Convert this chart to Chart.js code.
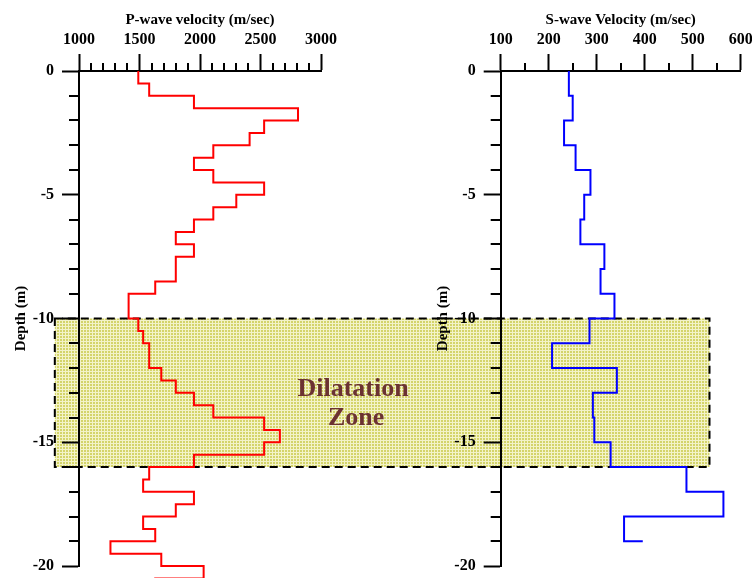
<!DOCTYPE html>
<html>
<head>
<meta charset="utf-8">
<script src="https://cdn.jsdelivr.net/npm/chart.js@4/dist/chart.umd.min.js"></script>
<style>
  html, body { margin: 0; padding: 0; background: #fff; }
  #wrap { position: relative; width: 752px; height: 578px; overflow: hidden; }
  #wrap canvas { position: absolute; left: 0; top: 0; }
</style>
</head>
<body>
<div id="wrap">
  <canvas id="pChart" width="752" height="578"></canvas>
  <canvas id="sChart" width="752" height="578"></canvas>
</div>
<script>
// P-wave profile: depth of each layer top (m) and its velocity (m/sec)
const pDepth = [0, -0.5, -1, -1.5, -2, -2.5, -3, -3.5, -4, -4.5, -5, -5.5, -6, -6.5, -7, -7.5, -8.5, -9,
  -10, -10.5, -11, -12, -12.5, -13, -13.5, -14, -14.5, -15, -15.5, -16, -16.5, -17, -17.5, -18, -18.5,
  -19, -19.5, -20, -20.5, -21];
const pVelocity = [1490, 1580, 1950, 2810, 2530, 2410, 2110, 1950, 2110, 2530, 2300, 2110, 1950, 1800, 1950, 1800, 1630, 1410,
  1490, 1530, 1580, 1680, 1800, 1950, 2110, 2530, 2660, 2530, 1950, 1580, 1530, 1950, 1800, 1530, 1630,
  1260, 1680, 2030, 1630, 1630];

// S-wave profile
const sDepth = [0, -1, -2, -3, -4, -5, -6, -7, -8, -9, -10, -11, -12, -13, -14, -15, -16, -17, -18, -19];
const sVelocity = [242, 250, 232, 256, 287, 274, 266, 316, 308, 337, 285, 207, 342, 292, 295, 329, 487, 564, 357, 396];

// tick labels
const pTickLabels = [1000, 1500, 2000, 2500, 3000];
const sTickLabels = [100, 200, 300, 400, 500, 600];
const depthTickLabels = [0, -5, -10, -15, -20];

// dilatation zone: depth range, left edge (P velocity), right edge (S velocity)
const zoneDepth = [-10, -16];
const zoneP = 800;
const zoneS = 535;
const zoneText = ['Dilatation', 'Zone'];

Chart.defaults.font.family = "'Liberation Serif', 'Times New Roman', serif";
Chart.defaults.color = '#000';

const tickFont = { size: 16, weight: 'bold' };

// draws the short (minor) tick marks
const minorTicks = {
  id: 'minorTicks',
  afterDraw(chart, args, opts) {
    const ctx = chart.ctx;
    const xs = chart.scales.x, ys = chart.scales.y;
    ctx.save();
    ctx.strokeStyle = '#000';
    ctx.lineWidth = 2;
    ctx.beginPath();
    xs.ticks.forEach(t => {
      if (!opts.xLabels.includes(t.value)) {
        const px = Math.round(xs.getPixelForValue(t.value));
        ctx.moveTo(px, xs.bottom);
        ctx.lineTo(px, xs.bottom - 8);
      }
    });
    ys.ticks.forEach(t => {
      if (!depthTickLabels.includes(t.value)) {
        const py = Math.round(ys.getPixelForValue(t.value));
        ctx.moveTo(ys.right, py);
        ctx.lineTo(ys.right - 10, py);
      }
    });
    ctx.stroke();
    ctx.restore();
  }
};

function makePattern() {
  const c = document.createElement('canvas');
  c.width = 3; c.height = 3;
  const g = c.getContext('2d');
  g.fillStyle = '#f3f3c8';
  g.fillRect(0, 0, 3, 3);
  g.fillStyle = '#d4d46a';
  g.fillRect(0, 0, 2, 2);
  return g.createPattern(c, 'repeat');
}

function axes(minX, maxX, step, labels, title, yWidth) {
  return {
    x: {
      type: 'linear', position: 'top', min: minX, max: maxX,
      afterFit: s => { s.height = 71; s.paddingLeft = 0; s.paddingRight = 0; },
      border: { color: '#000', width: 2 },
      grid: {
        drawOnChartArea: false, tickLength: 17, tickWidth: 2,
        tickColor: c => (c.tick && labels.includes(c.tick.value)) ? '#000' : 'rgba(0,0,0,0)'
      },
      ticks: {
        stepSize: step, autoSkip: false, maxRotation: 0, padding: 5, font: tickFont,
        callback: v => labels.includes(v) ? String(v) : ''
      },
      title: { display: true, text: title, font: { size: 15, weight: 'bold' }, padding: { top: 11, bottom: 0 } }
    },
    y: {
      type: 'linear', position: 'left', min: -20, max: 0,
      afterFit: s => { s.width = yWidth; s.paddingTop = 0; s.paddingBottom = 0; },
      border: { color: '#000', width: 2 },
      grid: {
        drawOnChartArea: false, tickLength: 17, tickWidth: 2,
        tickColor: c => (c.tick && depthTickLabels.includes(c.tick.value)) ? '#000' : 'rgba(0,0,0,0)'
      },
      ticks: {
        stepSize: 1, autoSkip: false, padding: 8, font: tickFont,
        callback: v => depthTickLabels.includes(v) ? String(v) : ''
      },
      title: { display: true, text: 'Depth (m)', font: { size: 15, weight: 'bold' }, padding: { top: 12, bottom: 0 } }
    }
  };
}

const sChart = new Chart(document.getElementById('sChart'), {
  type: 'line',
  data: {
    datasets: [{
      data: sDepth.map((d, i) => ({ x: sVelocity[i], y: d })),
      borderColor: '#0000ff', borderWidth: 2, pointRadius: 0, stepped: 'after', fill: false
    }]
  },
  options: {
    responsive: false, animation: false,
    layout: { padding: { left: 421.7, right: 11.3, top: 0, bottom: 12 } },
    plugins: { legend: { display: false }, tooltip: { enabled: false }, minorTicks: { xLabels: sTickLabels } },
    scales: axes(100, 600, 50, sTickLabels, 'S-wave Velocity (m/sec)', 79)
  },
  plugins: [minorTicks]
});

// zone box and its label, drawn under the axes of the P chart
const zonePlugin = {
  id: 'zone',
  beforeDraw(chart) {
    const ctx = chart.ctx;
    const ys = chart.scales.y;
    const x0 = chart.scales.x.getPixelForValue(zoneP);
    const x1 = sChart.scales.x.getPixelForValue(zoneS);
    const y0 = ys.getPixelForValue(zoneDepth[0]);
    const y1 = ys.getPixelForValue(zoneDepth[1]);
    ctx.save();
    ctx.fillStyle = makePattern();
    ctx.fillRect(x0, y0, x1 - x0, y1 - y0);
    ctx.strokeStyle = '#000';
    ctx.lineWidth = 2;
    ctx.setLineDash([8, 5]);
    ctx.strokeRect(x0, y0, x1 - x0, y1 - y0);
    ctx.setLineDash([]);
    ctx.fillStyle = '#6b3232';
    ctx.font = "bold 26px 'Liberation Serif', 'Times New Roman', serif";
    ctx.textAlign = 'center';
    ctx.textBaseline = 'middle';
    const tx = chart.scales.x.getPixelForValue(3265);
    ctx.fillText(zoneText[0], tx, ys.getPixelForValue(-12.85));
    ctx.fillText(zoneText[1], tx + 3, ys.getPixelForValue(-14.05));
    ctx.restore();
  }
};

const pChart = new Chart(document.getElementById('pChart'), {
  type: 'line',
  data: {
    datasets: [{
      data: pDepth.map((d, i) => ({ x: pVelocity[i], y: d })),
      borderColor: '#ff0000', borderWidth: 2, pointRadius: 0, stepped: 'after', fill: false, clip: false
    }]
  },
  options: {
    responsive: false, animation: false,
    layout: { padding: { left: 0, right: 431, top: 0, bottom: 12 } },
    plugins: { legend: { display: false }, tooltip: { enabled: false }, minorTicks: { xLabels: pTickLabels } },
    scales: axes(1000, 3000, 100, pTickLabels, 'P-wave velocity (m/sec)', 79)
  },
  plugins: [zonePlugin, minorTicks]
});
</script>
</body>
</html>
